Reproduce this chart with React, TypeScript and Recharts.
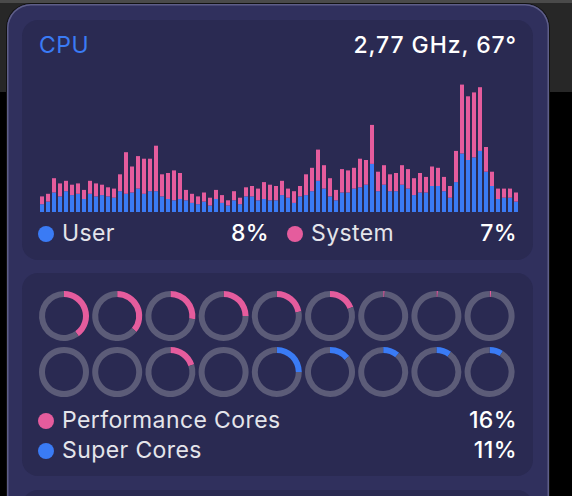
import { BarChart, Bar, XAxis, YAxis, PieChart, Pie, Cell } from "recharts";

// per-sample CPU load, percent
const userLoad = [
  6, 8, 15, 12, 16, 13, 14, 10, 14, 12, 13, 12, 11, 16, 14, 15, 18, 14, 16, 16,
  12, 10, 9, 10, 9, 7, 6, 8, 5, 10, 7, 5, 9, 6, 12, 12, 9, 10, 9, 9,
  13, 11, 7, 12, 13, 16, 24, 18, 12, 9, 15, 15, 18, 19, 21, 37, 16, 21, 16, 16,
  21, 18, 13, 15, 15, 20, 20, 16, 11, 23, 45, 40, 42, 47, 31, 20, 10, 11, 11, 8,
];
const systemLoad = [
  6, 6, 11, 10, 8, 8, 8, 7, 10, 10, 8, 7, 7, 13, 32, 20, 25, 27, 25, 35,
  17, 20, 23, 20, 8, 7, 6, 7, 6, 7, 6, 4, 7, 5, 7, 8, 9, 13, 12, 11,
  11, 7, 9, 8, 16, 18, 24, 18, 14, 8, 18, 17, 16, 22, 19, 30, 15, 15, 13, 14,
  15, 15, 13, 15, 12, 15, 14, 11, 9, 24, 53, 49, 50, 49, 19, 11, 8, 7, 7, 7,
];

// per-core usage, percent (row 1, row 2)
const coreUsage = [40, 36, 27, 25, 22, 19, 1, 1, 1, 0, 0, 20, 0, 25, 14, 11, 10, 9];
const coreKind = ["p", "p", "p", "p", "p", "p", "p", "p", "p", "p", "p", "p", "p", "s", "s", "s", "s", "s"];

const headerText = "2,77 GHz, 67°";
const userTotal = "8%";
const systemTotal = "7%";
const perfTotal = "16%";
const superTotal = "11%";

const BLUE = "#3a7bf5";
const PINK = "#e55c9d";
const TRACK = "#5c5c78";
const PANEL = "#30305d";
const CARD = "#2a2a52";

const samples = userLoad.map((u, i) => ({ i, user: u, system: systemLoad[i] }));

const font = "Inter, 'Noto Sans', sans-serif";

function Dot({ x, y, color }: { x: number; y: number; color: string }) {
  return (
    <div
      style={{
        position: "absolute",
        left: x - 8,
        top: y - 8,
        width: 16,
        height: 16,
        borderRadius: 8,
        background: color,
      }}
    />
  );
}

function Label({
  x,
  y,
  text,
  color = "#e4e4ea",
  align = "left",
  w = 240,
  weight = 400,
  spacing = 0.4,
}: {
  x: number;
  y: number;
  text: string;
  color?: string;
  align?: "left" | "right";
  w?: number;
  weight?: number;
  spacing?: number;
}) {
  return (
    <div
      style={{
        position: "absolute",
        left: align === "right" ? x - w : x,
        top: y,
        width: w,
        textAlign: align,
        fontSize: 23,
        lineHeight: "23px",
        letterSpacing: spacing,
        color,
        fontWeight: weight,
        whiteSpace: "nowrap",
      }}
    >
      {text}
    </div>
  );
}

export default function App() {
  return (
    <div
      style={{
        position: "absolute",
        left: 0,
        top: 0,
        width: 572,
        height: 496,
        overflow: "hidden",
        background: "#000",
        fontFamily: font,
      }}
    >
      {/* window behind */}
      <div style={{ position: "absolute", left: 0, top: 0, width: 572, height: 92, background: "#272727" }} />
      <div style={{ position: "absolute", left: 0, top: 0, width: 572, height: 3, background: "#4a4a4a" }} />

      {/* panel */}
      <div
        style={{
          position: "absolute",
          left: 7,
          top: 4,
          width: 542,
          height: 540,
          borderRadius: 24,
          background: PANEL,
          boxShadow: "0 0 0 1px #111, inset 0 0 0 1.5px #5e5e88",
        }}
      />
      <div style={{ position: "absolute", left: 22, top: 20, width: 511, height: 240, borderRadius: 16, background: CARD }} />
      <div style={{ position: "absolute", left: 22, top: 273, width: 511, height: 203, borderRadius: 16, background: CARD }} />
      <div style={{ position: "absolute", left: 22, top: 490, width: 511, height: 60, borderRadius: 16, background: CARD }} />

      <Label x={39} y={34} text="CPU" color={BLUE} spacing={0.5} />
      <Label x={517} y={34} text={headerText} color="#ffffff" align="right" weight={500} spacing={0.9} />

      <div style={{ position: "absolute", left: 39, top: 82 }}>
        <BarChart width={480} height={130} data={samples} margin={{ top: 0, right: 0, bottom: 0, left: 0 }}>
          <XAxis dataKey="i" hide />
          <YAxis hide domain={[0, 100]} />
          <Bar dataKey="user" stackId="a" fill={BLUE} barSize={4} isAnimationActive={false} />
          <Bar dataKey="system" stackId="a" fill={PINK} barSize={4} isAnimationActive={false} />
        </BarChart>
      </div>

      <Dot x={46} y={234} color={BLUE} />
      <Label x={62} y={222} text="User" />
      <Label x={269} y={222} text={userTotal} color="#ffffff" align="right" w={60} weight={500} />
      <Dot x={295} y={234} color={PINK} />
      <Label x={311} y={222} text="System" />
      <Label x={517} y={222} text={systemTotal} color="#ffffff" align="right" w={60} weight={500} />

      <div style={{ position: "absolute", left: 22, top: 283 }}>
        <PieChart width={511} height={120} margin={{ top: 0, right: 0, bottom: 0, left: 0 }}>
          {coreUsage.map((v, i) => {
            const col = i % 9;
            const row = Math.floor(i / 9);
            const data = [{ v }, { v: 100 - v }];
            return (
              <Pie
                key={i}
                data={data}
                dataKey="v"
                cx={42 + col * 53.2}
                cy={33 + row * 56}
                innerRadius={19}
                outerRadius={25}
                startAngle={90}
                endAngle={-270}
                stroke="none"
                isAnimationActive={false}
              >
                <Cell fill={coreKind[i] === "p" ? PINK : BLUE} />
                <Cell fill={TRACK} />
              </Pie>
            );
          })}
        </PieChart>
      </div>

      <Dot x={46} y={421} color={PINK} />
      <Label x={62} y={409} text="Performance Cores" w={300} />
      <Label x={517} y={409} text={perfTotal} color="#ffffff" align="right" w={60} weight={500} />
      <Dot x={46} y={451} color={BLUE} />
      <Label x={62} y={439} text="Super Cores" w={300} />
      <Label x={517} y={439} text={superTotal} color="#ffffff" align="right" w={60} weight={500} />
    </div>
  );
}
